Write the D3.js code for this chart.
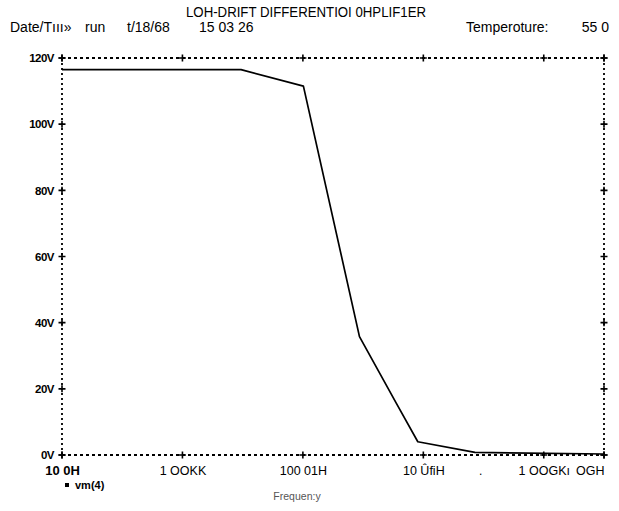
<!DOCTYPE html>
<html>
<head>
<meta charset="utf-8">
<script src="https://cdn.jsdelivr.net/npm/d3@7"></script>
<style>
  body { margin: 0; background: #fff; }
  svg { display: block; }
  text { font-family: "Liberation Sans", Arial, sans-serif; fill: #000; }
</style>
</head>
<body>
<script>
// values
var freqHz = [10, 9.4e3, 1.02e5, 8.7e5, 3.55e6, 8.1e6, 7.2e7, 1e10];
var vm4 = [116.5, 116.5, 111.5, 35.8, 15.7, 4.0, 0.8, 0.3];

var xTicks = [10, 1e3, 1e5, 1e7, 1e9, 1e10];
var xTickLabels = ["10 0H", "1 OOKK", "100 01H", "10 \u00DBfiH", "1 OOGK\u0131", "OGH"];
var yTicks = [0, 20, 40, 60, 80, 100, 120];
var yTickLabels = ["0V", "20V", "40V", "60V", "80V", "100V", "120V"];

var title = "LOH-DRIFT  DIFFERENTIOI  0HPLIF1ER";
var legendLabel = "vm(4)";
var xTitle = "Frequen:y";

var width = 619, height = 511;
var margin = {top: 58, right: 15, bottom: 56, left: 62};

var svg = d3.select("body").append("svg")
    .attr("width", width)
    .attr("height", height);

var x = d3.scaleLog()
    .domain([10, 1e10])
    .range([margin.left, width - margin.right]);
var y = d3.scaleLinear()
    .domain([0, 120])
    .range([height - margin.bottom, margin.top]);

// header
svg.append("text")
    .attr("x", 186).attr("y", 17)
    .attr("textLength", 240)
    .attr("lengthAdjust", "spacingAndGlyphs")
    .style("font-size", "14px")
    .text(title);

var header = [
    {t: "Date/T\u0131\u0131\u0131\u00BB", x: 10},
    {t: "run", x: 85},
    {t: "t/18/68", x: 127},
    {t: "15 03 26", x: 199},
    {t: "Temperoture:", x: 466}
];
svg.selectAll(".hdr").data(header).enter().append("text")
    .attr("class", "hdr")
    .attr("x", d => d.x).attr("y", 32)
    .style("font-size", "14px")
    .text(d => d.t);
svg.append("text")
    .attr("x", 609).attr("y", 32)
    .attr("text-anchor", "end")
    .style("font-size", "14px")
    .text("55  0");

// frame, dotted like the plotter output
var x0 = x.range()[0], x1 = x.range()[1], y0 = y.range()[0], y1 = y.range()[1];
var frame = svg.append("g")
    .attr("fill", "none")
    .attr("stroke", "#000")
    .attr("stroke-width", 1.8);
frame.append("line").attr("x1", x0).attr("x2", x1).attr("y1", y1).attr("y2", y1)
    .attr("stroke-dasharray", "3,3");
frame.append("line").attr("x1", x0).attr("x2", x1).attr("y1", y0).attr("y2", y0)
    .attr("stroke-dasharray", "3,3");
frame.append("line").attr("x1", x0).attr("x2", x0).attr("y1", y0).attr("y2", y1)
    .attr("stroke-dasharray", "2,3");
frame.append("line").attr("x1", x1).attr("x2", x1).attr("y1", y0).attr("y2", y1)
    .attr("stroke-dasharray", "2,3");

// plus marks at the ticks on all four sides
function plus(g, cx, cy) {
    g.append("path")
        .attr("d", "M" + (cx - 3.5) + "," + cy + "h7M" + cx + "," + (cy - 3.5) + "v7")
        .attr("stroke", "#000")
        .attr("stroke-width", 1.6);
}
var marks = svg.append("g");
xTicks.forEach(function (d) { plus(marks, x(d), y1); plus(marks, x(d), y0); });
yTicks.forEach(function (d) { plus(marks, x0, y(d)); plus(marks, x1, y(d)); });

// axes for the labels only
var xAxis = svg.append("g")
    .attr("transform", "translate(0," + y0 + ")")
    .call(d3.axisBottom(x).tickValues(xTicks).tickSize(0).tickPadding(11)
        .tickFormat((d, i) => xTickLabels[i]));
xAxis.select(".domain").remove();
xAxis.selectAll("text")
    .attr("fill", "#000")
    .style("font-family", "Liberation Sans, Arial, sans-serif")
    .style("font-size", (d, i) => i === 0 ? "13px" : "12.5px")
    .style("font-weight", (d, i) => i === 0 ? "bold" : "normal")
    .attr("text-anchor", (d, i) => i === xTicks.length - 1 ? "end" : "middle");

var yAxis = svg.append("g")
    .attr("transform", "translate(" + x0 + ",0)")
    .call(d3.axisLeft(y).tickValues(yTicks).tickSize(0).tickPadding(8)
        .tickFormat((d, i) => yTickLabels[i]));
yAxis.select(".domain").remove();
yAxis.selectAll("text")
    .attr("fill", "#000")
    .style("font-family", "Liberation Sans, Arial, sans-serif")
    .style("font-size", "11.5px")
    .style("font-weight", "bold")
    .style("letter-spacing", "-0.5px");

svg.append("text")
    .attr("x", 479).attr("y", 475)
    .style("font-size", "12px")
    .text(".");

// the curve
var pts = freqHz.map((f, i) => ({f: f, v: vm4[i]}));
svg.append("path")
    .datum(pts)
    .attr("fill", "none")
    .attr("stroke", "#000")
    .attr("stroke-width", 1.7)
    .attr("stroke-linejoin", "round")
    .attr("d", d3.line().x(d => x(d.f)).y(d => y(d.v)));

// legend
svg.append("rect")
    .attr("x", 65).attr("y", 483).attr("width", 4).attr("height", 4)
    .attr("fill", "#000");
svg.append("text")
    .attr("x", 75).attr("y", 489)
    .style("font-size", "11px")
    .style("font-weight", "bold")
    .text(legendLabel);

// x title, faint in the scan
svg.append("text")
    .attr("x", 297).attr("y", 500)
    .attr("text-anchor", "middle")
    .style("fill", "#555")
    .style("font-size", "10.5px")
    .text(xTitle);
</script>
</body>
</html>
